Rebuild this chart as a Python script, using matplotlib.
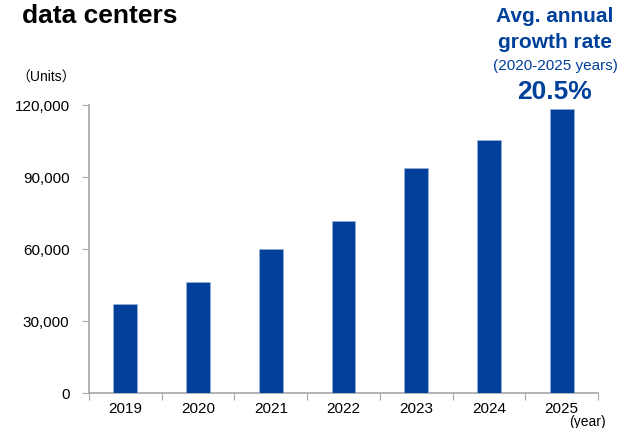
import matplotlib.pyplot as plt

years = ["2019", "2020", "2021", "2022", "2023", "2024", "2025"]
units = [37100, 46500, 60300, 72000, 93900, 105700, 118600]
yticks = [0, 30000, 60000, 90000, 120000]

blue = "#00409A"
gray = "#A6A6A6"

plt.rcParams["font.family"] = ["Liberation Sans", "Noto Sans CJK JP", "DejaVu Sans"]

fig = plt.figure(figsize=(6.37, 4.28), dpi=100)
ax = fig.add_axes([89 / 637, 1 - 393.3 / 428, 509 / 637, 288 / 428])

x = list(range(len(years)))
ax.bar(x, units, width=0.33, color=blue, edgecolor="#9DB3DC", linewidth=0.4, zorder=3)

ax.set_xlim(-0.5, len(years) - 0.5)
ax.set_ylim(0, 120000)
ax.set_yticks(yticks)
ax.set_yticklabels([f"{v:,}" for v in yticks], fontsize=11)

# category labels between the boundary ticks
ax.set_xticks([i - 0.5 for i in range(len(years) + 1)])
ax.set_xticklabels([])
ax.set_xticks(x, minor=True)
ax.set_xticklabels(years, minor=True, fontsize=11)
ax.tick_params(axis="x", which="minor", length=0, pad=6)
ax.tick_params(axis="x", which="major", length=5, color=gray, direction="out")
ax.tick_params(axis="y", length=5, color=gray, direction="out", pad=9)

for s in ["top", "right"]:
    ax.spines[s].set_visible(False)
for s in ["left", "bottom"]:
    ax.spines[s].set_color(gray)
    ax.spines[s].set_linewidth(1.2)

fig.text(22 / 637, 1 - 16 / 428, "data centers", fontsize=19, fontweight="bold",
         ha="left", va="center")
fig.text(16 / 637, 1 - 78 / 428, "（Units）", fontsize=10, ha="left", va="center")
fig.text(606 / 637, 1 - 422 / 428, "(year)", fontsize=10, ha="right", va="center")

cx = 555 / 637
fig.text(cx, 1 - 17 / 428, "Avg. annual", fontsize=15, fontweight="bold",
         color=blue, ha="center", va="center")
fig.text(cx, 1 - 43 / 428, "growth rate", fontsize=15, fontweight="bold",
         color=blue, ha="center", va="center")
fig.text(cx, 1 - 66 / 428, "(2020-2025 years)", fontsize=11,
         color=blue, ha="center", va="center")
fig.text(cx, 1 - 92 / 428, "20.5%", fontsize=19, fontweight="bold",
         color=blue, ha="center", va="center")

fig.savefig("out.png", dpi=100)
